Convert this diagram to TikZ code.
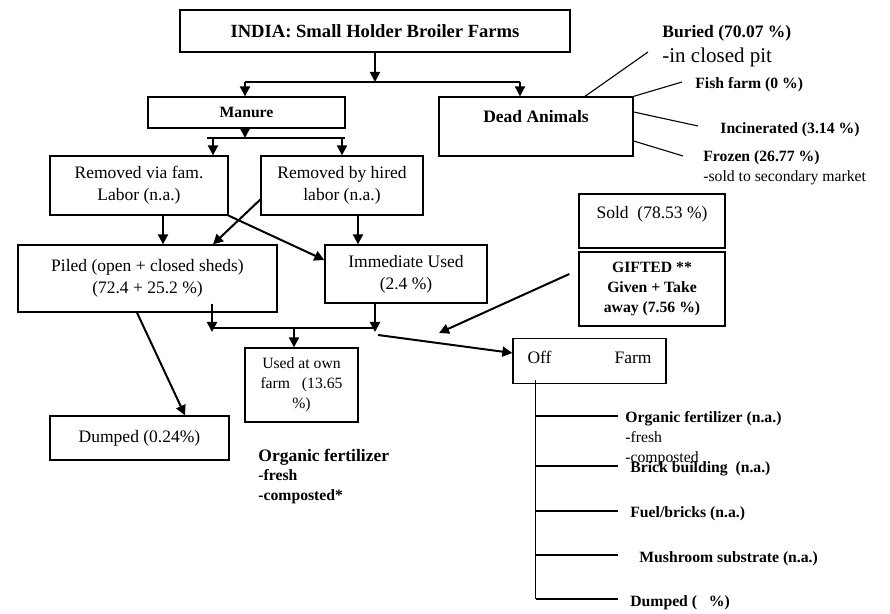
\documentclass[tikz,border=0pt]{standalone}
\usepackage{fontspec}
\setmainfont{Liberation Serif}
\usetikzlibrary{arrows.meta}

\newcommand{\fsbig}{\fontsize{8.75}{11}\selectfont}
\newcommand{\fssmall}{\fontsize{7.85}{10}\selectfont}

\begin{document}
\begin{tikzpicture}[x=0.5pt,y=-0.5pt,
  box/.style={draw,line width=0.65pt,align=center,inner sep=1pt,font=\fsbig},
  lbl/.style={anchor=west,align=left,inner sep=0pt,font=\fssmall\bfseries},
  arr/.style={-{Triangle[width=5pt,length=5pt]},line width=1pt},
  link/.style={line width=0.75pt},
  fan/.style={line width=0.55pt}]
\useasboundingbox (0,0) rectangle (890,614);

% boxes
\node[box,font=\fontsize{9.3}{11}\selectfont\bfseries,minimum width=195pt,minimum height=21pt] (title) at (375,31) {INDIA: Small Holder Broiler Farms};
\node[box,font=\fssmall\bfseries,minimum width=98.5pt,minimum height=15.5pt] (manure) at (246.5,112.5) {Manure};
\node[box,font=\fsbig\bfseries,minimum width=97pt,minimum height=29.5pt,text height=6.5pt,text depth=10.2pt] (dead) at (536,126.5) {Dead Animals};
\node[box,minimum width=89pt,minimum height=29.5pt] (fam) at (139,185.5) {Removed via fam.\\Labor (n.a.)};
\node[box,minimum width=81pt,minimum height=29.5pt] (hired) at (342,185.5) {Removed by hired\\labor (n.a.)};
\node[box,minimum width=129.5pt,minimum height=33.5pt] (piled) at (147.5,278.5) {Piled (open + closed sheds)\\(72.4 + 25.2 \%)};
\node[box,minimum width=81pt,minimum height=29pt] (imm) at (406,274) {Immediate Used\\(2.4 \%)};
\node[box,minimum width=73pt,minimum height=27pt,text height=6.5pt,text depth=8.7pt] (sold) at (652,221) {Sold\ \ (78.53 \%)};
\node[box,font=\fssmall\bfseries,minimum width=73pt,minimum height=37pt] (gifted) at (652,289) {GIFTED **\\Given + Take\\away (7.56 \%)};
\node[box,font=\fssmall,minimum width=56.5pt,minimum height=37pt] (own) at (301.5,385) {Used at own\\farm\ \ \ (13.65\\\%)};
\node[box,minimum width=89.5pt,minimum height=22pt] (dumped) at (139.5,438) {Dumped (0.24\%)};
\node[box,minimum width=76.5pt,minimum height=22.5pt,text height=6.5pt,text depth=4pt] (off) at (589.5,361) {Off\hspace{31.5pt}Farm};

% labels
\node[lbl,font=\fsbig\bfseries] (bur) at (662,33) {Buried (70.07 \%)};
\node[lbl,font=\fontsize{10.5}{12}\selectfont] (pit) at (662,57) {-in closed pit};
\node[lbl] (fish) at (695,85) {Fish farm (0 \%)};
\node[lbl] (inc) at (720,130) {Incinerated (3.14 \%)};
\node[lbl] (froz) at (703,168) {Frozen (26.77 \%)\\\mdseries -sold to secondary market};
\node[lbl,font=\fsbig\bfseries] (orgl) at (258,457) {Organic fertilizer};
\node[lbl] (orgl2) at (258,487) {-fresh\\-composted*};
\node[lbl] (orgr) at (625,438.5) {Organic fertilizer (n.a.)\\\mdseries -fresh\\\mdseries -composted};
\node[lbl] (brick) at (630,469) {Brick building\ \ (n.a.)};
\node[lbl] (fuel) at (630,514) {Fuel/bricks (n.a.)};
\node[lbl] (mush) at (639,559) {Mushroom substrate (n.a.)};
\node[lbl] (dmp) at (630,603) {Dumped (\ \ \ \%)};

% title split
\coordinate (j0) at (375,82);
\coordinate (jm) at (245,82);
\coordinate (jd) at (520,82);
\draw[arr] (title.south) -- (j0);
\draw[link] (jm) -- (jd);
\draw[arr] (jm) -- (jm |- manure.north);
\draw[arr] (jd) -- (jd |- dead.north);

% manure split
\coordinate (k0) at (245,138);
\coordinate (kl) at (207,138);
\coordinate (kr) at (345,138);
\coordinate (kfa) at (213,138);
\coordinate (khi) at (342,138);
\draw[arr] (manure.south -| k0) -- (k0);
\draw[link] (kl) -- (kr);
\draw[arr] (kfa) -- (kfa |- fam.north);
\draw[arr] (khi) -- (khi |- hired.north);

% removal
\coordinate (f1) at ([xshift=12pt]fam.south);
\coordinate (h1) at ([yshift=-7pt]hired.west);
\coordinate (h2) at ([xshift=8pt]hired.south);
\draw[arr] (f1) -- (f1 |- piled.north);
\draw[arr] (h1) -- ([xshift=32.75pt]piled.north);
\draw[arr] (fam.south east) -- ([yshift=7pt]imm.west);
\draw[arr] (h2) -- (h2 |- imm.north);

% storage to use
\coordinate (p1) at ([xshift=32.25pt,yshift=4.5pt]piled.south);
\coordinate (i1) at ([xshift=-15.5pt]imm.south);
\coordinate (q) at (294,328);
\coordinate (r) at (378,335);
\draw[link] (p1 |- q) -- (i1 |- q);
\draw[arr] (p1) -- ([yshift=-2pt]p1 |- q);
\draw[arr] (i1) -- ([yshift=-2pt]i1 |- q);
\draw[arr] (q) -- (q |- own.north);
\draw[arr] (r) -- ([yshift=4pt]off.west);
\draw[arr] ([xshift=-5.25pt]piled.south) -- ([xshift=22.75pt]dumped.north);

\coordinate (gt) at (439,333);
\draw[arr] ([xshift=-4.5pt,yshift=7.5pt]gifted.west) -- (gt);

% dead animals
\coordinate (e1) at (648,52);
\coordinate (e2) at (682,82);
\coordinate (e3) at (698,126);
\coordinate (e4) at (683,156);
\draw[fan] ([xshift=24.5pt]dead.north) -- (e1);
\draw[fan] (dead.north east) -- (e2);
\draw[fan] ([yshift=7.25pt]dead.east) -- (e3);
\draw[fan] ([yshift=-7.25pt]dead.east) -- (e4);

% off farm
\coordinate (t0) at ([xshift=-27pt,yshift=2pt]off.south);
\foreach \yy [count=\i] in {416,466,511,555,599}
  \coordinate (b\i) at (618,\yy);
\draw[fan] (t0) -- (t0 |- b5);
\foreach \i in {1,...,5}
  \draw[fan] (t0 |- b\i) -- (b\i);
\end{tikzpicture}
\end{document}
